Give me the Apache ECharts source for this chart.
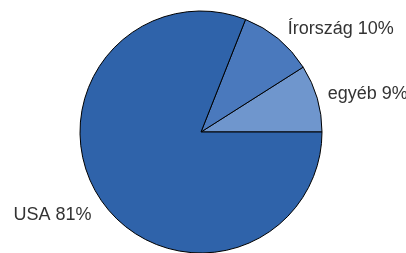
<!DOCTYPE html>
<html><head><meta charset="utf-8">
<script src="https://cdn.jsdelivr.net/npm/echarts@6/dist/echarts.min.js"></script>
<style>html,body{margin:0;padding:0;background:#fff;}#c{width:406px;height:253px;}</style>
</head><body><div id="c"></div>
<script>
const categories = ['egyéb', 'Írország', 'USA'];
const values = [9, 10, 81];
const colors = ['#6f96cd', '#4a79bd', '#2f63aa'];
const lineLengths = [14, 12, 27];
const lineLengths2 = [-3, 2, -13];

const chart = echarts.init(document.getElementById('c'), null, {renderer: 'canvas'});
chart.setOption({
  animation: false,
  series: [{
    type: 'pie',
    center: [201, 132],
    radius: [0, 121],
    startAngle: 0,
    clockwise: false,
    avoidLabelOverlap: false,
    itemStyle: {borderColor: '#000', borderWidth: 1},
    label: {
      show: true,
      position: 'outside',
      formatter: p => p.name + ' ' + p.value + '%',
      fontFamily: 'Liberation Sans, Arial, sans-serif',
      fontSize: 18,
      color: '#333333',
      distanceToLabelLine: 0
    },
    labelLine: {show: false},
    data: categories.map((c, i) => ({
      name: c, value: values[i],
      itemStyle: {color: colors[i]},
      labelLine: {show: false, length: lineLengths[i], length2: lineLengths2[i]}
    }))
  }]
});
</script></body></html>
